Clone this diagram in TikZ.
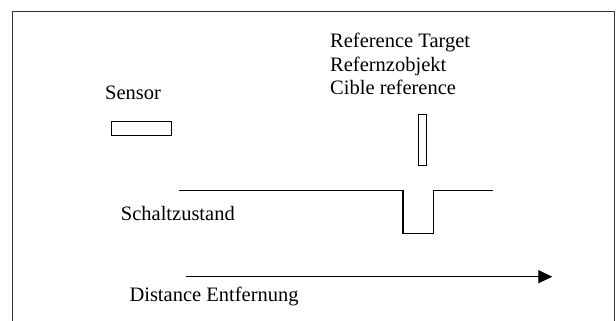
\documentclass[tikz,border=0pt]{standalone}
\usepackage{fontspec}
\setmainfont{Liberation Serif}
\usetikzlibrary{arrows.meta}

\begin{document}
\begin{tikzpicture}[x=1pt,y=-1pt,font=\fontsize{20.5}{24}\selectfont]
\useasboundingbox (0,0) rectangle (616,321);

% frame
\draw[line width=0.8pt,black!80] (12,321) -- (12,11) -- (614,11) -- (614,321);

\begin{scope}[every node/.style={anchor=base west,inner sep=0pt}]
    \node (sensor) at (105,99.3) {Sensor};
    \node (ref1) at (330,47.7) {Reference Target};
    \node (ref2) at (330,71) {Refernzobjekt};
    \node (ref3) at (330,94.3) {Cible reference};
    \node (schalt) at (120.7,220) {Schaltzustand};
    \node (dist) at (129.3,301.7) {Distance Entfernung};
\end{scope}

\begin{scope}[every node/.style={draw,line width=0.8pt,inner sep=0pt}]
    \node[minimum width=60.7pt,minimum height=14pt] (sensorbox) at (141.3,128.7) {};
    \node[minimum width=8pt,minimum height=51pt] (target) at (422,139.7) {};
\end{scope}

\coordinate (s0) at (179,190.5);
\coordinate (s1) at (402.7,233.3);
\coordinate (s2) at (433.3,190.5);
\coordinate (s3) at (493.3,190.5);
\coordinate (d0) at (185.7,276.7);
\coordinate (d1) at (552.3,276.7);

\draw[line width=1.6pt] (s0) -| (s1) -| (s2) -- (s3);
\draw[line width=1.3pt,-{Triangle[length=14pt,width=13pt]}] (d0) -- (d1);

\end{tikzpicture}
\end{document}
